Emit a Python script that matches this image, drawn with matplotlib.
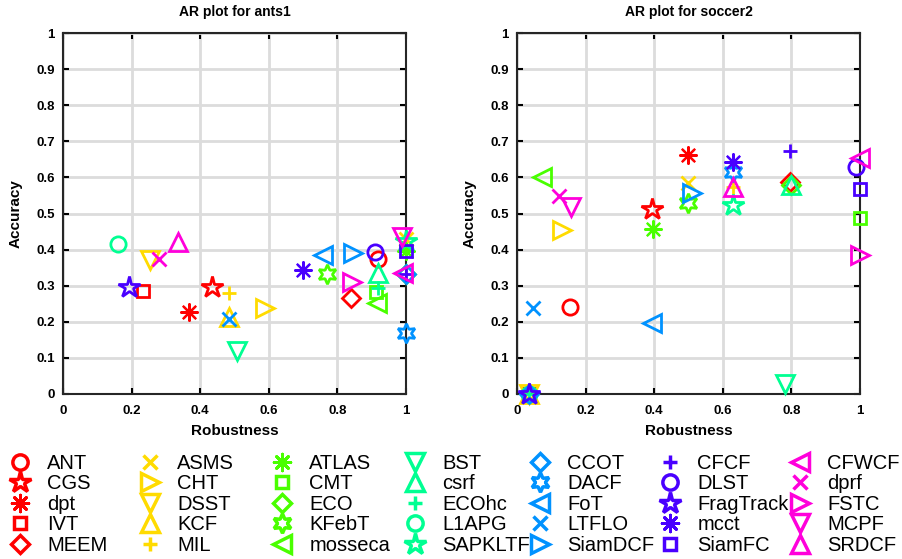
import matplotlib
matplotlib.use("Agg")
import matplotlib.pyplot as plt
from matplotlib.lines import Line2D
from matplotlib.markers import MarkerStyle

plt.rcParams['font.family'] = ['Liberation Sans', 'DejaVu Sans']

# tracker names, grouped 5 per colour
trackers = ['ANT', 'CGS', 'dpt', 'IVT', 'MEEM',
            'ASMS', 'CHT', 'DSST', 'KCF', 'MIL',
            'ATLAS', 'CMT', 'ECO', 'KFebT', 'mosseca',
            'BST', 'csrf', 'ECOhc', 'L1APG', 'SAPKLTF',
            'CCOT', 'DACF', 'FoT', 'LTFLO', 'SiamDCF',
            'CFCF', 'DLST', 'FragTrack', 'mcct', 'SiamFC',
            'CFWCF', 'dprf', 'FSTC', 'MCPF', 'SRDCF']

# ants1: robustness / accuracy
ants1_rob = [0.918, 0.434, 0.367, 0.233, 0.840,
             1.000, 0.589, 0.254, 0.484, 0.484,
             1.000, 0.913, 1.000, 0.770, 0.915,
             0.507, 0.918, 0.918, 0.160, 1.000,
             1.000, 1.000, 0.758, 0.484, 0.845,
             1.000, 0.910, 0.193, 0.700, 1.000,
             0.990, 0.280, 0.843, 0.988, 0.335]
ants1_acc = [0.374, 0.297, 0.227, 0.286, 0.266,
             0.430, 0.238, 0.371, 0.214, 0.280,
             0.395, 0.283, 0.332, 0.332, 0.251,
             0.120, 0.335, 0.294, 0.415, 0.425,
             0.332, 0.170, 0.385, 0.208, 0.390,
             0.332, 0.393, 0.297, 0.343, 0.395,
             0.335, 0.374, 0.310, 0.435, 0.420]

# soccer2: robustness / accuracy
soccer2_rob = [0.155, 0.394, 0.499, 0.035, 0.796,
               0.499, 0.131, 0.035, 0.035, 0.630,
               0.397, 1.000, 0.800, 0.499, 0.073,
               0.780, 0.800, 0.035, 0.035, 0.630,
               0.035, 0.630, 0.394, 0.047, 0.510,
               0.796, 0.988, 0.035, 0.630, 1.000,
               1.000, 0.122, 1.000, 0.157, 0.630]
soccer2_acc = [0.241, 0.512, 0.662, 0.000, 0.587,
               0.584, 0.454, 0.000, 0.000, 0.573,
               0.457, 0.488, 0.580, 0.529, 0.601,
               0.028, 0.578, 0.000, 0.000, 0.524,
               0.000, 0.615, 0.197, 0.238, 0.557,
               0.673, 0.629, 0.000, 0.643, 0.567,
               0.655, 0.548, 0.385, 0.518, 0.573]

group_colors = ['#ff0000', '#ffdb00', '#49ff00', '#00ff92',
                '#0092ff', '#4900ff', '#ff00db']

markers = ['o', '*', (8, 2, 0), 's', 'D',
           'x', '>', 'v', '^', '+',
           (8, 2, 0), 's', 'D', (6, 1, 0), '<',
           'v', '^', '+', 'o', '*',
           'D', (6, 1, 0), '<', 'x', '>',
           '+', 'o', '*', (8, 2, 0), 's',
           '<', 'x', '>', 'v', '^']


def msize(m):
    if m == 'o':
        return 11
    if m == 's':
        return 9
    if m == 'D':
        return 9.5
    if m == '*':
        return 16
    if m == (6, 1, 0):
        return 14
    if m in ('^', 'v', '<', '>'):
        return 13
    if m == (8, 2, 0):
        return 12
    return 10.5


def mwidth(m):
    if m == (8, 2, 0):
        return 1.6
    return 2


def mstyle(m):
    # MATLAB-like asterisk: separate spokes, not a blob in the middle
    if m == (8, 2, 0):
        return MarkerStyle(m, joinstyle='round', capstyle='butt')
    return m


def style_axes(ax, title):
    ax.set_xlim(0, 1)
    ax.set_ylim(0, 1)
    ax.set_xticks([0, 0.2, 0.4, 0.6, 0.8, 1])
    ax.set_xticklabels(['0', '0.2', '0.4', '0.6', '0.8', '1'])
    ax.set_yticks([i / 10 for i in range(11)])
    ax.set_yticklabels(['0'] + ['0.%d' % i for i in range(1, 10)] + ['1'])
    ax.grid(True, color='#dcdcdc', lw=2)
    ax.set_axisbelow(True)
    ax.tick_params(direction='in', length=4, width=1.5, top=True, right=True,
                   labelsize=9.5)
    ax.tick_params(axis='x', pad=8)
    ax.tick_params(axis='y', pad=6)
    for lab in ax.get_xticklabels() + ax.get_yticklabels():
        lab.set_fontweight('bold')
    for sp in ax.spines.values():
        sp.set_linewidth(1.5)
        sp.set_color('#262626')
    ax.set_title(title, fontsize=10, fontweight='bold', pad=12)
    ax.set_xlabel('Robustness', fontsize=11, fontweight='bold', labelpad=5)
    ax.set_ylabel('Accuracy', fontsize=11, fontweight='bold', labelpad=10)


fig = plt.figure(figsize=(9.02, 5.59), dpi=100)
ax1 = fig.add_axes([63 / 902, 1 - 394 / 559, 343 / 902, 361 / 559])
ax2 = fig.add_axes([517 / 902, 1 - 394 / 559, 343 / 902, 361 / 559])

for ax, rob, acc, title in [(ax1, ants1_rob, ants1_acc, 'AR plot for ants1'),
                            (ax2, soccer2_rob, soccer2_acc, 'AR plot for soccer2')]:
    style_axes(ax, title)
    for i, name in enumerate(trackers):
        ax.plot([rob[i]], [acc[i]], linestyle='none', marker=mstyle(markers[i]),
                ms=msize(markers[i]), mfc='none', mec=group_colors[i // 5],
                mew=mwidth(markers[i]), clip_on=False, zorder=3 + i * 0.01)

# legend: one column per colour group
col_x = [20, 150, 282, 415, 540, 670, 800]
for g in range(7):
    handles = []
    for i in range(g * 5, g * 5 + 5):
        handles.append(Line2D([], [], linestyle='none', marker=mstyle(markers[i]),
                              ms=msize(markers[i]), mfc='none',
                              mec=group_colors[g], mew=mwidth(markers[i]) + 0.5,
                              label=trackers[i]))
    fig.legend(handles=handles, loc='upper left',
               bbox_to_anchor=((col_x[g] - 10) / 902, 1 - 454 / 559),
               frameon=False, fontsize=14.5, handlelength=1.0,
               handletextpad=0.85, labelspacing=0.07, borderpad=0,
               borderaxespad=0)

fig.savefig('out.png', dpi=100)
